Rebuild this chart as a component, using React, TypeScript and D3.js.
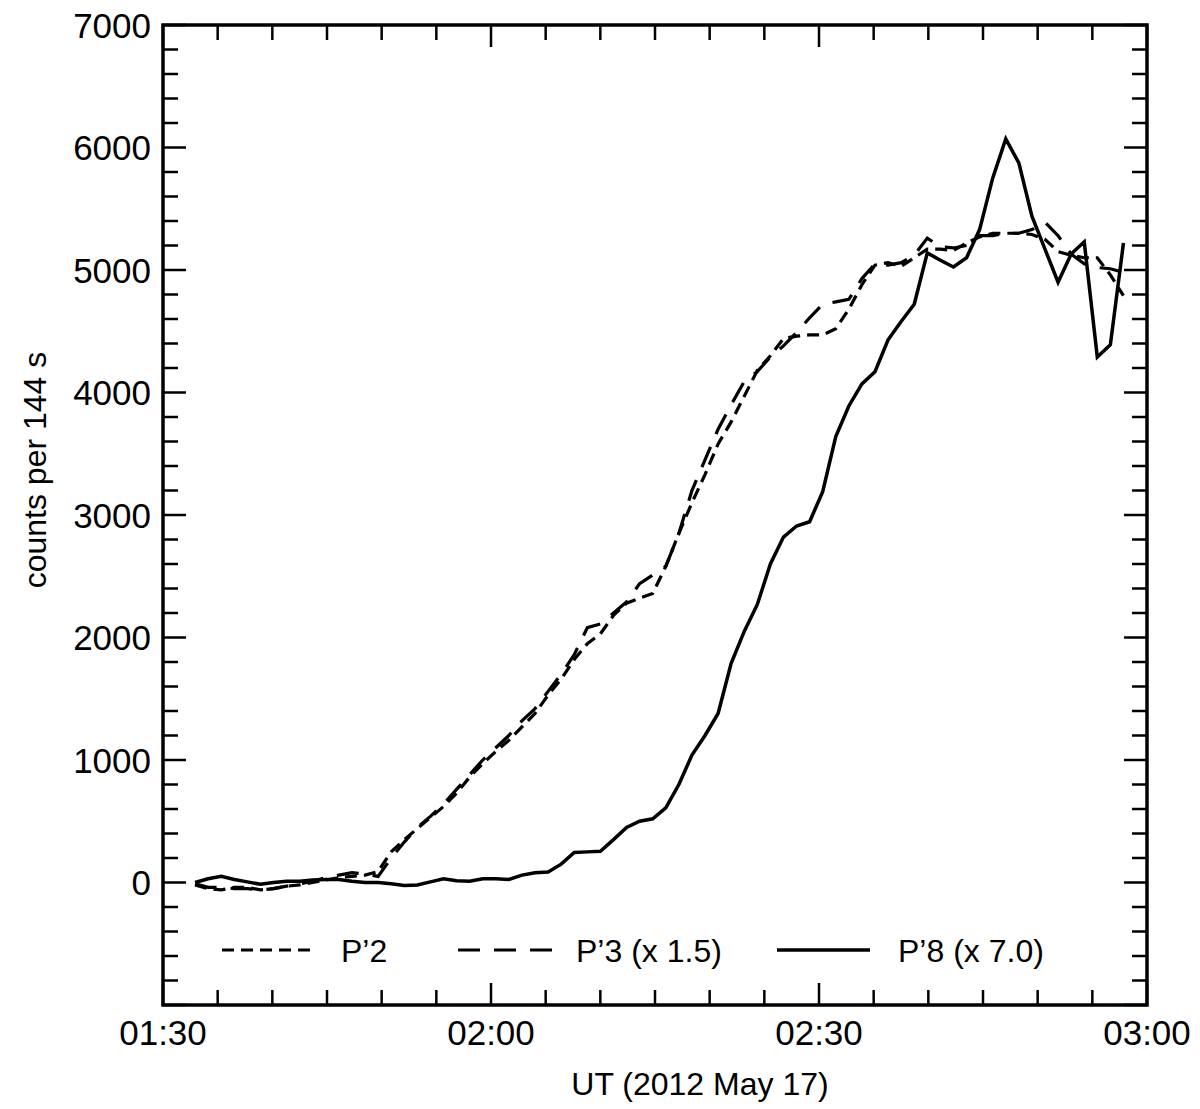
import React, { useEffect, useRef } from 'react';
import * as d3 from 'd3';

// minutes after 01:30 UT of the first sample, and the sample cadence (min)
const START_MIN = 2.93;
const STEP_MIN = 1.196;

// P'2 counts per 144 s
const p2 = [
  -20, -50, -60, -40, -40, -60, -50, -30, -20, 0,
  20, 40, 50, 60, 90, 250, 350, 440, 530, 620,
  730, 860, 970, 1070, 1160, 1270, 1380, 1530, 1660, 1820,
  1950, 2030, 2180, 2280, 2320, 2360, 2580, 2850, 3100, 3330,
  3580, 3760, 3970, 4180, 4300, 4440, 4460, 4470, 4470, 4520,
  4680, 4880, 5040, 5060, 5030, 5100, 5170, 5170, 5160, 5220,
  5270, 5300, 5300, 5300, 5290, 5250, 5150, 5120, 5100, 5100,
  4960, 4790,
];

// P'3 (x 1.5)
const p3 = [
  -10, -40, -40, -50, -50, -60, -50, -30, -10, 10,
  40, 60, 80, 70, 50, 200, 330, 450, 540, 640,
  760, 880, 1000, 1100, 1200, 1320, 1420, 1560, 1700, 1860,
  2080, 2110, 2200, 2290, 2440, 2510, 2580, 2850, 3200, 3450,
  3700, 3900, 4090, 4170, 4290, 4380, 4490, 4610, 4720, 4740,
  4760, 4930, 5050, 5040, 5060, 5120, 5260, 5190, 5180, 5200,
  5280, 5280, 5300, 5300, 5330, 5390, 5280, 5130, 5050, 5020,
  5010, 4980,
];

// P'8 (x 7.0)
const p8 = [
  0, 30, 50, 25, 5, -15, 0, 10, 10, 20,
  25, 25, 10, 0, 0, -10, -25, -20, 5, 30,
  15, 10, 30, 30, 25, 60, 80, 85, 150, 245,
  250, 255, 350, 450, 500, 520, 610, 800, 1040, 1200,
  1380, 1790, 2050, 2270, 2600, 2820, 2910, 2945, 3190, 3640,
  3890, 4070, 4170, 4430, 4580, 4720, 5140, 5080, 5025, 5100,
  5330, 5750, 6070, 5875, 5440, 5170, 4900, 5130, 5230, 4290,
  4390, 5220,
];

const yTicks = [-1000, 0, 1000, 2000, 3000, 4000, 5000, 6000, 7000];
const yTickLabels = ['', '0', '1000', '2000', '3000', '4000', '5000', '6000', '7000'];
const xTicks = [0, 30, 60, 90];
const xTickLabels = ['01:30', '02:00', '02:30', '03:00'];
const legendLabels = ['P\u20192', 'P\u20193 (x 1.5)', 'P\u20198 (x 7.0)'];

const W = 1200;
const H = 1109;
const FONT = 'Liberation Sans, Arial, Helvetica, sans-serif';

export default function App() {
  const ref = useRef<SVGSVGElement>(null);

  useEffect(() => {
    document.body.style.margin = '0';
    const svg = d3.select(ref.current);
    svg.selectAll('*').remove();

    const left = 163, right = 1147, top = 25, bottom = 1005;
    const x = d3.scaleLinear().domain([0, 90]).range([left, right]);
    const y = d3.scaleLinear().domain([-1000, 7000]).range([bottom, top]);

    const times = p2.map((_, i) => START_MIN + i * STEP_MIN);

    // ticks, all four sides, pointing inward
    const ticks = svg.append('g').attr('stroke', '#000').attr('stroke-width', 2.5);
    d3.range(-1000, 7001, 200).forEach((v) => {
      const major = v % 1000 === 0;
      const len = major ? 23 : 15;
      ticks.append('line').attr('x1', left).attr('x2', left + len).attr('y1', y(v)).attr('y2', y(v));
      ticks.append('line').attr('x1', right).attr('x2', right - len).attr('y1', y(v)).attr('y2', y(v));
    });
    d3.range(0, 91, 5).forEach((m) => {
      const major = m % 30 === 0;
      const len = major ? 22 : 15;
      ticks.append('line').attr('x1', x(m)).attr('x2', x(m)).attr('y1', bottom).attr('y2', bottom - len);
      ticks.append('line').attr('x1', x(m)).attr('x2', x(m)).attr('y1', top).attr('y2', top + len);
    });

    // frame
    svg.append('rect')
      .attr('x', left).attr('y', top)
      .attr('width', right - left).attr('height', bottom - top)
      .attr('fill', 'none').attr('stroke', '#000').attr('stroke-width', 3.5);

    // tick labels
    svg.append('g').selectAll('text').data(yTicks).enter().append('text')
      .attr('x', 151).attr('y', (d) => y(d)).attr('dy', '0.36em')
      .attr('text-anchor', 'end').attr('font-family', FONT).attr('font-size', 35)
      .text((_, i) => yTickLabels[i]);
    svg.append('g').selectAll('text').data(xTicks).enter().append('text')
      .attr('x', (d) => x(d)).attr('y', 1045)
      .attr('text-anchor', 'middle').attr('font-family', FONT).attr('font-size', 35)
      .text((_, i) => xTickLabels[i]);

    // axis titles
    svg.append('text').attr('x', 700).attr('y', 1095)
      .attr('text-anchor', 'middle').attr('font-family', FONT).attr('font-size', 32)
      .text('UT (2012 May 17)');
    svg.append('text').attr('transform', 'translate(46,470) rotate(-90)')
      .attr('text-anchor', 'middle').attr('font-family', FONT).attr('font-size', 32)
      .text('counts per 144 s');

    // series
    const series = [
      { values: p2, dash: '12 7', width: 3.2 },
      { values: p3, dash: '22 14', width: 3.2 },
      { values: p8, dash: null, width: 3.5 },
    ];
    const line = d3.line<number>()
      .x((_, i) => x(times[i]))
      .y((d) => y(d));
    series.forEach((s) => {
      const p = svg.append('path').datum(s.values)
        .attr('d', line)
        .attr('fill', 'none').attr('stroke', '#000')
        .attr('stroke-width', s.width).attr('stroke-linejoin', 'miter');
      if (s.dash) p.attr('stroke-dasharray', s.dash);
    });

    // legend
    const legY = 950;
    const legItems = [
      { x1: 222, x2: 312, tx: 341 },
      { x1: 458, x2: 553, tx: 576 },
      { x1: 777, x2: 870, tx: 898 },
    ];
    legItems.forEach((it, i) => {
      const l = svg.append('line')
        .attr('x1', it.x1).attr('x2', it.x2).attr('y1', legY).attr('y2', legY)
        .attr('stroke', '#000').attr('stroke-width', series[i].width);
      if (series[i].dash) l.attr('stroke-dasharray', series[i].dash);
      svg.append('text').attr('x', it.tx).attr('y', legY).attr('dy', '0.36em')
        .attr('font-family', FONT).attr('font-size', 32)
        .text(legendLabels[i]);
    });
  }, []);

  return <svg ref={ref} width={W} height={H} style={{ display: 'block', background: '#fff' }} />;
}
